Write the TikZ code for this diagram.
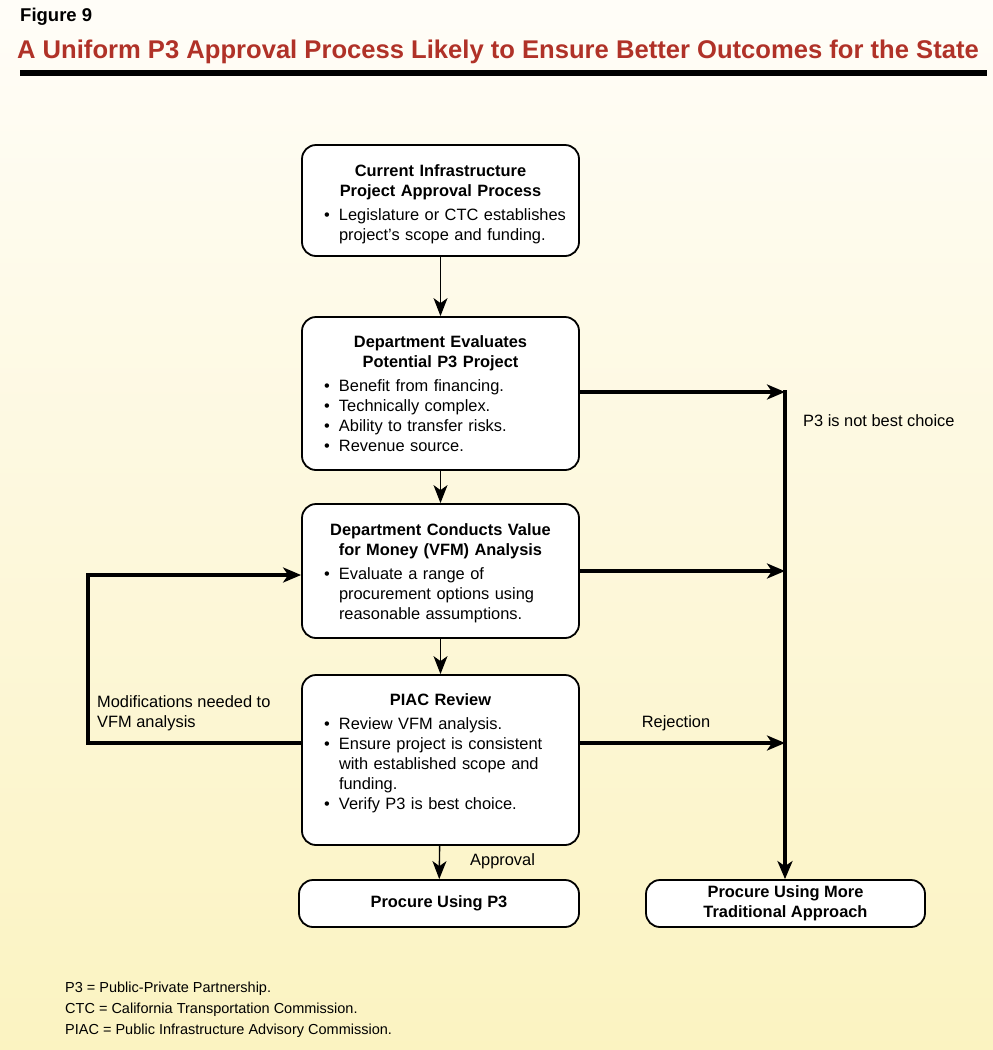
\documentclass[tikz,border=0pt]{standalone}
\usepackage{fontspec}
\setmainfont{Liberation Sans}
\usepackage{xcolor}
\usetikzlibrary{arrows.meta,positioning}

\definecolor{titlered}{RGB}{176,50,40}
\definecolor{bgtop}{RGB}{255,253,248}
\definecolor{bgbottom}{RGB}{251,243,193}

\newcommand{\boxfont}{\fontsize{16.4pt}{20pt}\selectfont}
\newcommand{\notefont}{\fontsize{14.5pt}{21pt}\selectfont}
% bullet line with hanging indent
\newcommand{\bitem}[1]{\par\leftskip=9pt\hangindent=15pt\hangafter=1\noindent\makebox[15pt][l]{\textbullet}#1\par}
\newcommand{\boxhead}[1]{{\centering\bfseries #1\par}\vspace{4pt}}

\begin{document}
\begin{tikzpicture}[x=1pt, y=-1pt,
    >={Stealth[length=18pt, width=14pt, inset=5pt]},
    box/.style={draw, line width=1.8pt, fill=white, rounded corners=14pt, text width=251pt, inner xsep=13pt, inner ysep=4pt, align=left, font=\boxfont},
    endbox/.style={draw, line width=1.8pt, fill=white, rounded corners=14pt, minimum height=47pt, align=center, font=\boxfont\bfseries},
    arrow/.style={->, line width=1.4pt},
    bigarrow/.style={-{Stealth[length=18pt, width=15pt, inset=5pt]}, line width=3.8pt},
    lbl/.style={font=\boxfont, align=left, inner sep=0pt}
]
\useasboundingbox (0,0) rectangle (993,1050);
\shade[top color=bgtop, bottom color=bgbottom] (0,0) rectangle (993,1050);

% heading
\node[anchor=west, inner sep=0pt, font=\fontsize{18.5pt}{20pt}\selectfont\bfseries] (fig) at (20,17) {Figure 9};
\node[inner sep=0pt, text=titlered, font=\fontsize{25.6pt}{28pt}\selectfont\bfseries] (title) at (498,52)
    {A Uniform P3 Approval Process Likely to Ensure Better Outcomes for the State};
\fill (20,70) rectangle (987,75.5);

% process boxes
\node[box, minimum height=111pt] (current) at (440.5,200.5) {%
    \boxhead{\rule{0pt}{20pt}Current Infrastructure\\Project Approval Process}
    \bitem{Legislature or CTC establishes\newline project's scope and funding.}};
\node[box, minimum height=153pt] (evaluate) at (440.5,393.5) {%
    \boxhead{Department Evaluates\\Potential P3 Project}
    \bitem{Benefit from financing.}
    \bitem{Technically complex.}
    \bitem{Ability to transfer risks.}
    \bitem{Revenue source.}};
\node[box, minimum height=134pt] (vfm) at (440.5,571) {%
    \boxhead{\rule{0pt}{16pt}Department Conducts Value\\for Money (VFM) Analysis}
    \bitem{Evaluate a range of\newline procurement options using\newline reasonable assumptions.}};
\node[box, minimum height=170pt] (piac) at (440.5,760) {%
    \boxhead{PIAC Review}
    \bitem{Review VFM analysis.}
    \bitem{Ensure project is consistent\newline with established scope and\newline funding.}
    \bitem{Verify P3 is best choice.\rule[-17pt]{0pt}{1pt}}};
\node[endbox, minimum width=280pt] (usep3) at (439,903.5) {Procure Using P3};
\node[endbox, minimum width=279pt] (traditional) at (785.5,903.5) {Procure Using More\\Traditional Approach};

% junctions on the right and the loop on the left
\coordinate (split) at (785,390.1);
\coordinate (notbest) at (785,392);
\coordinate (vfmout) at (785,571);
\coordinate (reject) at (785,743);
\coordinate (modtop) at (88,575);
\coordinate (modbot) at (88,743);

\draw[arrow] (current) -- (evaluate);
\draw[arrow] (evaluate) -- (vfm);
\draw[arrow] (vfm) -- (piac);
\draw[arrow] (piac) -- (usep3);

\draw[bigarrow] (evaluate.east |- notbest) -- (notbest);
\draw[bigarrow] (vfm.east |- vfmout) -- (vfmout);
\draw[bigarrow] (piac.east |- reject) -- (reject);
\draw[bigarrow] (split) -- (traditional.north -| split);
\draw[bigarrow] (piac.west |- modbot) -- (modbot) -- (modtop) -- (vfm.west |- modtop);

% labels
\node[lbl, anchor=west] (notbestlbl) at (803,421) {P3 is not best choice};
\node[lbl] (rejectlbl) at (676,723) {Rejection};
\node[lbl, anchor=west] (approvelbl) at (470,861) {Approval};
\node[lbl, anchor=west] (modlbl) at (97,713) {Modifications needed to\\VFM analysis};

% notes
\node[anchor=west, align=left, inner sep=0pt, font=\notefont] (notes) at (65,1010)
    {P3 = Public-Private Partnership.\\CTC = California Transportation Commission.\\PIAC = Public Infrastructure Advisory Commission.};
\end{tikzpicture}
\end{document}
